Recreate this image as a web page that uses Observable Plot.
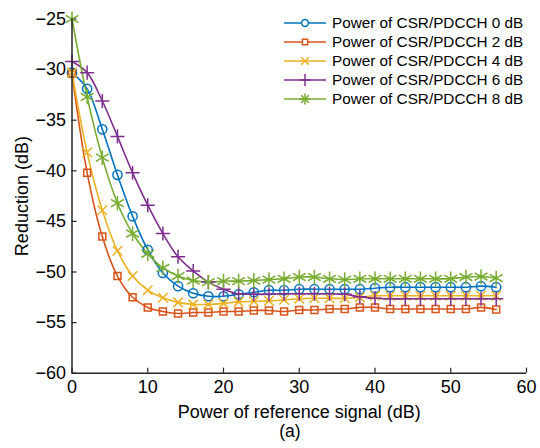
<!DOCTYPE html>
<html><head><meta charset="utf-8">
<script src="https://cdn.jsdelivr.net/npm/d3@7"></script>
<script src="https://cdn.jsdelivr.net/npm/@observablehq/plot@0.6"></script>
<style>
body{margin:0;background:#fff;font-family:"Liberation Sans",Arial,sans-serif;}
#wrap{position:relative;width:540px;height:448px;}
#legend{position:absolute;left:284px;top:13px;font-size:15.3px;color:#000;}
.item{display:flex;align-items:center;height:19px;white-space:nowrap;}
.item svg{margin-right:6px;}
#cap{position:absolute;left:0;width:580px;top:421px;text-align:center;font-size:17.5px;color:#000;}
</style></head><body><div id="wrap"><div id="legend"></div><div id="cap">(a)</div></div>
<script>
const xValues = [0,2,4,6,8,10,12,14,16,18,20,22,24,26,28,30,32,34,36,38,40,42,44,46,48,50,52,54,56];
const seriesNames = ["Power of CSR/PDCCH 0 dB","Power of CSR/PDCCH 2 dB","Power of CSR/PDCCH 4 dB","Power of CSR/PDCCH 6 dB","Power of CSR/PDCCH 8 dB"];
const p0 = [-30.3,-31.9,-35.9,-40.4,-44.5,-47.8,-50.1,-51.4,-52.1,-52.4,-52.4,-52.2,-52.0,-51.8,-51.8,-51.7,-51.7,-51.7,-51.7,-51.7,-51.6,-51.5,-51.5,-51.5,-51.5,-51.5,-51.5,-51.4,-51.5];
const p2 = [-30.4,-40.2,-46.5,-50.4,-52.5,-53.5,-53.9,-54.1,-54.0,-54.0,-53.9,-53.9,-53.8,-53.8,-53.9,-53.75,-53.75,-53.65,-53.65,-53.5,-53.5,-53.65,-53.65,-53.65,-53.65,-53.65,-53.65,-53.5,-53.7];
const p4 = [-30.3,-38.2,-43.9,-47.9,-50.4,-51.8,-52.55,-53.0,-53.2,-53.2,-53.1,-52.95,-52.9,-52.85,-52.75,-52.65,-52.6,-52.6,-52.6,-52.5,-52.35,-52.35,-52.35,-52.35,-52.35,-52.35,-52.35,-52.35,-52.35];
const p6 = [-29.2,-30.3,-33.1,-36.6,-40.2,-43.4,-46.2,-48.5,-49.9,-51.0,-51.7,-52.15,-52.2,-52.2,-52.15,-52.15,-52.15,-52.15,-52.2,-52.45,-52.6,-52.65,-52.65,-52.65,-52.65,-52.65,-52.65,-52.65,-52.65];
const p8 = [-25.0,-32.7,-38.7,-43.2,-46.2,-48.2,-49.6,-50.4,-50.85,-51.0,-50.9,-50.9,-50.85,-50.75,-50.67,-50.5,-50.5,-50.67,-50.75,-50.67,-50.67,-50.67,-50.67,-50.67,-50.67,-50.67,-50.5,-50.45,-50.6];
const xTicks = [0,10,20,30,40,50,60];
const yTicks = [-60,-55,-50,-45,-40,-35,-30,-25];

const seriesValues = [p0,p2,p4,p6,p8];
const colors = ["#0072BD","#D95319","#EDB120","#7E2F8E","#77AC30"];
const symbols = ["circle","square","times","plus","asterisk"];
const radii = [4.6,3.9,4.4,4.6,7];

const rows = seriesValues.map((vals, i) => xValues.map((x, j) => ({x, y: vals[j], s: i})));

const marks = [];
rows.forEach((data, i) => {
  marks.push(Plot.line(data, {x: "x", y: "y", stroke: colors[i], strokeWidth: 1.6, curve: "catmull-rom"}));
});
rows.forEach((data, i) => {
  marks.push(Plot.dot(data, {x: "x", y: "y", stroke: colors[i], fill: symbols[i]==="circle"||symbols[i]==="square" ? "none" : null, symbol: symbols[i], r: radii[i], strokeWidth: 1.5}));
});

const chart = Plot.plot({
  width: 540, height: 448,
  marginLeft: 71.5, marginRight: 14, marginTop: 18.5, marginBottom: 75.3,
  style: {fontFamily: "Liberation Sans, Arial, sans-serif", color: "#262626", background: "#fff"},
  x: {domain: [0, 60]},
  y: {domain: [-60, -25]},
  marks: [
    Plot.axisX(xTicks, {tickSize: 0, tickPadding: 7, fontSize: 18, label: "Power of reference signal (dB)", labelAnchor: "center", labelOffset: 45, labelArrow: "none", color: "#000"}),
    Plot.axisY(yTicks, {tickSize: 0, tickPadding: 6, fontSize: 18, label: "Reduction (dB)", labelAnchor: "center", labelOffset: 57, labelArrow: "none", color: "#000"}),
    Plot.ruleX(xTicks, {x: d => d, y1: -60, y2: -59.5, stroke: "#262626", strokeWidth: 1.2}),
    Plot.ruleY(yTicks, {y: d => d, x1: 0, x2: 0.66, stroke: "#262626", strokeWidth: 1.2}),
    ...marks,
    Plot.ruleX([0], {stroke: "#262626", strokeWidth: 1.5}),
    Plot.ruleY([-60], {stroke: "#262626", strokeWidth: 1.5})
  ]
});
document.getElementById("wrap").prepend(chart);

// legend
const legend = d3.select("#legend");
const symMap = {circle: d3.symbolCircle, square: d3.symbolSquare, times: d3.symbolTimes, plus: d3.symbolPlus, asterisk: d3.symbolAsterisk};
const legSizes = [36, 28, 40, 50, 40];
seriesNames.forEach((name, i) => {
  const item = legend.append("div").attr("class", "item");
  const svg = item.append("svg").attr("width", 42).attr("height", 12);
  svg.append("line").attr("x1", 0).attr("x2", 42).attr("y1", 6).attr("y2", 6).attr("stroke", colors[i]).attr("stroke-width", 1.6);
  const sym = symbols[i] === "asterisk" ? d3.symbolTimes : symMap[symbols[i]];
  const g = svg.append("g").attr("transform", "translate(21,6)");
  g.append("path").attr("d", d3.symbol(sym, legSizes[i])()).attr("fill", symbols[i]==="circle"||symbols[i]==="square" ? "#fff" : "none").attr("stroke", colors[i]).attr("stroke-width", 1.5);
  if (symbols[i] === "asterisk") g.append("path").attr("d", d3.symbol(d3.symbolPlus, legSizes[i])()).attr("fill", "none").attr("stroke", colors[i]).attr("stroke-width", 1.5);
  item.append("span").text(name);
});
</script></body></html>
